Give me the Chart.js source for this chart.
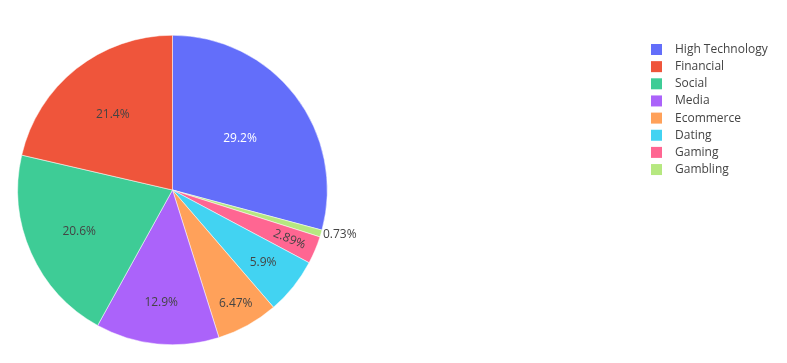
<!DOCTYPE html>
<html>
<head>
<meta charset="utf-8">
<script src="https://cdn.jsdelivr.net/npm/chart.js@4.4.0/dist/chart.umd.min.js"></script>
<style>
    html, body { margin: 0; padding: 0; background: #fff; }
    canvas { display: block; }
</style>
</head>
<body>
<canvas id="pieChart" width="787" height="363"></canvas>
<script>
// 데이터 (범례 순서)
const categories = ['High Technology', 'Financial', 'Social', 'Media', 'Ecommerce', 'Dating', 'Gaming', 'Gambling'];
const shares = [29.2, 21.4, 20.6, 12.9, 6.47, 5.9, 2.89, 0.73];
const percentLabels = ['29.2%', '21.4%', '20.6%', '12.9%', '6.47%', '5.9%', '2.89%', '0.73%'];
const sliceColors = ['#636efa', '#EF553B', '#3ecc96', '#ab63fa', '#FFA15A', '#42d3f2', '#FF6692', '#B6E880'];

// 시계방향으로 그리는 순서 (12시에서 시작)
const drawOrder = [0, 7, 6, 5, 4, 3, 2, 1];

// 라벨 스타일
const labelRadius = [0.55, 0.62, 0.66, 0.73, 0.84, 0.75, 0.82, 0];
const labelColor = ['#fff', '#444', '#444', '#444', '#444', '#444', '#444', '#444'];
const labelRadial = [false, false, false, false, false, false, true, false];
const labelOutside = [false, false, false, false, false, false, false, true];

const FONT = "'Open Sans', verdana, arial, sans-serif";

const sliceLabels = {
    id: 'sliceLabels',
    afterDatasetsDraw(chart) {
        const ctx = chart.ctx;
        const meta = chart.getDatasetMeta(0);
        ctx.save();
        ctx.font = '12px ' + FONT;
        ctx.textBaseline = 'middle';
        meta.data.forEach((arc, i) => {
            const k = drawOrder[i];
            const p = arc.getProps(['x', 'y', 'startAngle', 'endAngle', 'outerRadius'], true);
            const mid = (p.startAngle + p.endAngle) / 2;
            ctx.fillStyle = labelColor[k];
            if (labelOutside[k]) {
                const r = p.outerRadius + 2;
                ctx.textAlign = 'left';
                ctx.fillText(percentLabels[k], p.x + Math.cos(mid) * r, p.y + Math.sin(mid) * r);
                return;
            }
            const r = p.outerRadius * labelRadius[k];
            const tx = p.x + Math.cos(mid) * r;
            const ty = p.y + Math.sin(mid) * r;
            ctx.textAlign = 'center';
            ctx.save();
            ctx.translate(tx, ty);
            if (labelRadial[k]) ctx.rotate(mid);
            ctx.fillText(percentLabels[k], 0, 0);
            ctx.restore();
        });
        ctx.restore();
    }
};

const sideLegend = {
    id: 'sideLegend',
    afterDraw(chart) {
        const ctx = chart.ctx;
        ctx.save();
        ctx.font = '12px ' + FONT;
        ctx.textBaseline = 'middle';
        ctx.textAlign = 'left';
        categories.forEach((name, i) => {
            const y = 49.5 + i * 17.15;
            ctx.fillStyle = sliceColors[i];
            ctx.fillRect(651, y - 5.5, 11, 11);
            ctx.fillStyle = '#444';
            ctx.fillText(name, 675, y);
        });
        ctx.restore();
    }
};

new Chart(document.getElementById('pieChart'), {
    type: 'pie',
    data: {
        labels: drawOrder.map(k => categories[k]),
        datasets: [{
            data: drawOrder.map(k => shares[k]),
            backgroundColor: drawOrder.map(k => sliceColors[k]),
            borderColor: '#fff',
            borderWidth: 0.5
        }]
    },
    options: {
        responsive: false,
        animation: false,
        layout: {
            padding: { left: 17.5, top: 35, right: 459.5, bottom: 18 }
        },
        plugins: {
            legend: { display: false },
            tooltip: { enabled: false }
        }
    },
    plugins: [sliceLabels, sideLegend]
});
</script>
</body>
</html>
